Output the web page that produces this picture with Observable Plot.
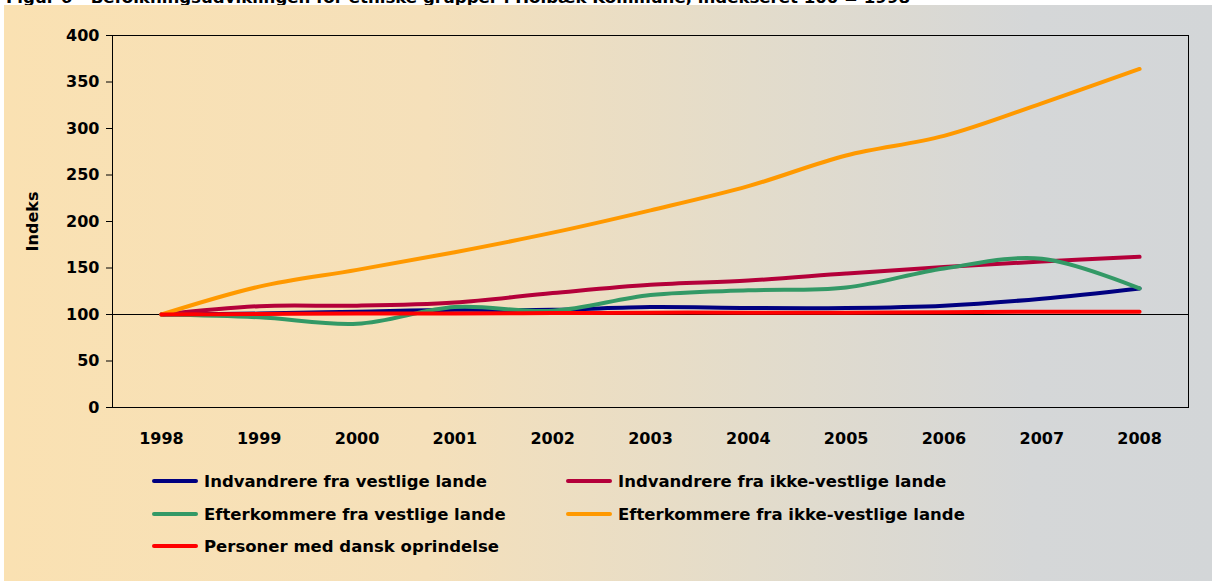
<!DOCTYPE html>
<html>
<head>
<meta charset="utf-8">
<script src="https://cdn.jsdelivr.net/npm/d3@7"></script>
<script src="https://cdn.jsdelivr.net/npm/@observablehq/plot@0.6"></script>
<style>
  html, body { margin: 0; padding: 0; background: #fff; }
  #wrap { position: relative; width: 1212px; height: 581px; overflow: hidden; font-family: "DejaVu Sans", sans-serif; }
  #title { position: absolute; left: 6px; top: -10px; font: bold 16.6px/16px "DejaVu Sans", sans-serif; white-space: nowrap; color: #000; z-index: 0; }
  #panel { position: absolute; left: 4px; top: 5px; width: 1208px; height: 576px; z-index: 1;
    background: linear-gradient(to right, #FAE1B2 0%, #F5E0BA 35%, #E3DCCB 62%, #D5D7D8 85%, #D3D6D8 100%); }
  #chart { position: absolute; left: 0; top: 0; z-index: 2; }
  .leg { position: absolute; z-index: 3; display: flex; align-items: center; font: bold 16.5px "DejaVu Sans", sans-serif; color: #000; white-space: nowrap; height: 20px; }
  .sw { width: 46px; height: 4px; border-radius: 2px; margin-right: 6px; }
</style>
</head>
<body>
<div id="wrap">
  <div id="title">Figur 6 - Befolkningsudviklingen for etniske grupper i Holbæk Kommune, indekseret 100 = 1998</div>
  <div id="panel"></div>
  <div id="chart"></div>
  <div id="legend"></div>
</div>
<script>
const years = [1998, 1999, 2000, 2001, 2002, 2003, 2004, 2005, 2006, 2007, 2008];
const seriesNames = [
  "Indvandrere fra vestlige lande",
  "Indvandrere fra ikke-vestlige lande",
  "Efterkommere fra vestlige lande",
  "Efterkommere fra ikke-vestlige lande",
  "Personer med dansk oprindelse"
];
const seriesColors = ["#000080", "#B4003A", "#339966", "#FF9900", "#FF0000"];
const indvandrereVestlige    = [100, 101, 103, 105, 105, 108, 107, 107, 109.5, 117, 128];
const indvandrereIkkeVestlige = [100, 109, 109.5, 113, 123, 132, 136.5, 144, 151, 157, 162];
const efterkommereVestlige   = [100, 97, 90, 108, 104, 121, 126, 129, 149.5, 160, 128];
const efterkommereIkkeVestlige = [100, 130, 148, 167, 188, 212, 238, 271, 292, 327, 364];
const danskOprindelse        = [100, 100.5, 101, 101, 101.5, 102, 102, 102, 102.5, 103, 103];
const yTicks = [0, 50, 100, 150, 200, 250, 300, 350, 400];

const allSeries = [indvandrereVestlige, indvandrereIkkeVestlige, efterkommereVestlige, efterkommereIkkeVestlige, danskOprindelse];
const data = [];
allSeries.forEach((vals, i) => vals.forEach((v, j) => data.push({series: seriesNames[i], year: years[j], value: v})));

const chart = Plot.plot({
  width: 1212,
  height: 460,
  marginLeft: 112,
  marginRight: 24,
  marginTop: 35,
  marginBottom: 53,
  style: {background: "transparent", fontFamily: "DejaVu Sans, sans-serif", overflow: "visible"},
  x: {domain: [1997.5, 2008.5]},
  y: {domain: [0, 400]},
  color: {domain: seriesNames, range: seriesColors},
  marks: [
    Plot.frame({stroke: "#000", strokeWidth: 1}),
    Plot.ruleY([100], {stroke: "#000", strokeWidth: 1}),
    Plot.axisY({ticks: yTicks, tickSize: 6, tickPadding: 7, fontSize: 16, fontWeight: "bold",
      label: "Indeks", labelAnchor: "center", labelArrow: "none", labelOffset: 86, color: "#000"}),
    Plot.axisX({ticks: years, tickSize: 0, tickPadding: 25, tickFormat: d => String(d), fontSize: 16, fontWeight: "bold", label: null, color: "#000"}),
    Plot.line(data, {x: "year", y: "value", z: "series", stroke: "series", strokeWidth: 4, curve: "catmull-rom"})
  ]
});
document.getElementById("chart").appendChild(chart);

const legendPos = [
  {x: 152, y: 481}, {x: 566, y: 481},
  {x: 152, y: 514}, {x: 566, y: 514},
  {x: 152, y: 546}
];
const legend = document.getElementById("legend");
seriesNames.forEach((name, i) => {
  const d = document.createElement("div");
  d.className = "leg";
  d.style.left = legendPos[i].x + "px";
  d.style.top = (legendPos[i].y - 10) + "px";
  const sw = document.createElement("div");
  sw.className = "sw";
  sw.style.background = seriesColors[i];
  d.appendChild(sw);
  d.appendChild(document.createTextNode(name));
  legend.appendChild(d);
});
</script>
</body>
</html>
